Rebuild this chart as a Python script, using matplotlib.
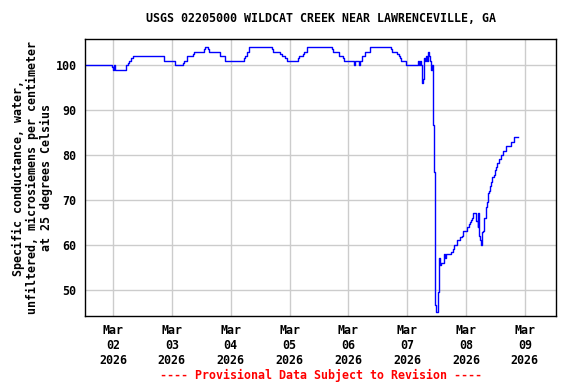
import matplotlib
matplotlib.use("Agg")
import matplotlib.pyplot as plt
import pandas as pd

# hours after 2026-03-02 00:00 where the reported value changes
hours = [-11.4, -0.4, 0.0, 0.4, 1.0, 5.1, 5.5, 6.1, 6.7, 7.3, 8.0, 20.9, 25.4, 28.7, 29.1,
         30.2, 32.8, 33.2, 37.2, 37.6, 38.8, 39.2, 43.6, 45.8, 53.4, 54.0, 54.7, 55.6,
         65.0, 65.4, 68.2, 68.8, 70.3, 70.9, 75.6, 76.0, 77.4, 77.9, 79.0, 89.2, 89.9,
         92.2, 93.9, 94.3, 98.3, 98.6, 100.5, 100.8, 101.7, 102.7, 105.0, 113.5, 113.9,
         116.0, 116.5, 117.2, 117.6, 119.6, 124.4, 124.8, 125.2, 125.6, 126.0, 126.4,
         126.9, 127.3, 127.7, 128.1, 128.5, 128.9, 129.3, 129.7, 130.1, 130.5, 130.7,
         131.1, 131.5, 131.8, 132.5, 132.9, 133.3, 133.7, 135.0, 135.4, 135.8, 138.0,
         138.6, 139.2, 140.4, 141.7, 142.2, 142.9, 144.3, 145.1, 145.6, 146.2, 146.6,
         147.0, 148.2, 148.8, 149.0, 149.2, 149.4, 149.8, 150.1, 150.5, 150.9, 151.5,
         152.0, 152.4, 152.8, 153.2, 153.7, 154.2, 154.7, 155.3, 155.8, 156.2, 156.8,
         157.5, 158.3, 159.2, 160.3, 162.3, 163.7, 165.1]
values = [100, 99.5, 99, 100, 99, 99.5, 100, 100.5, 101, 101.5, 102, 101, 100, 100.5, 101,
          102, 102.5, 103, 103.5, 104, 103.5, 103, 102, 101, 101.5, 102, 103, 104,
          103.5, 103, 102.5, 102, 101.5, 101, 101.5, 102, 102.5, 103, 104, 103.5, 103,
          102, 101.5, 101, 100, 101, 100, 101, 102, 103, 104, 103.5, 103,
          102.5, 102, 101.5, 101, 100, 101, 100, 101, 100, 96, 97,
          101.5, 101, 102, 101, 103, 102, 101, 99, 100, 98.5, 86.7,
          76.3, 46.7, 45, 49.6, 57, 55.5, 56, 58, 57, 58, 58.5,
          59, 60, 61, 61.7, 62, 63, 64, 64.6, 65, 65.5, 66,
          67, 65.4, 64, 67, 63.6, 62, 61, 60, 62.8, 63, 65.9,
          68.5, 69.6, 71.5, 72.1, 73, 74.1, 75.1, 75.6, 76.6, 77.4, 78.2,
          79.1, 80, 81, 82, 82.8, 84, 84]

y_ticks = [50, 60, 70, 80, 90, 100]
x_tick_days = ["2026-03-02", "2026-03-03", "2026-03-04", "2026-03-05",
               "2026-03-06", "2026-03-07", "2026-03-08", "2026-03-09"]

base = pd.Timestamp("2026-03-02 00:00")
times = base + pd.to_timedelta(hours, unit="h")

plt.rcParams['font.family'] = ['DejaVu Sans Mono']
fig = plt.figure(figsize=(5.76, 3.84), dpi=100)
ax = fig.add_axes([85/576, 1-316/384, (556-85)/576, (316-39)/384])

ax.plot(times, values, drawstyle='steps-post', color='#0000ff', lw=1.0)

ax.set_xlim(base + pd.Timedelta(hours=-11.42), base + pd.Timedelta(hours=180.7))
ax.set_ylim(44.2, 105.8)
ax.set_yticks(y_ticks)
ticks = pd.to_datetime(x_tick_days)
ax.set_xticks(ticks)
ax.set_xticklabels([t.strftime("%b\n%d\n%Y") for t in ticks], fontsize=8.4,
                   fontweight='bold', linespacing=1.2)
ax.tick_params(axis='y', labelsize=8.4, length=0, pad=6)
ax.tick_params(axis='x', length=0, pad=6)
for lbl in ax.get_yticklabels():
    lbl.set_fontweight('bold')
ax.grid(True, color='#cccccc', lw=1)
ax.set_axisbelow(True)
for s in ax.spines.values():
    s.set_linewidth(1.0)

ax.set_ylabel("Specific conductance, water,\nunfiltered, microsiemens per centimeter\nat 25 degrees Celsius",
              fontsize=8.4, fontweight='bold', linespacing=1.1, labelpad=2)
fig.text(320.5/576, 1-19/384, "USGS 02205000 WILDCAT CREEK NEAR LAWRENCEVILLE, GA",
         ha='center', va='center', fontsize=8.4, fontweight='bold')
fig.text(320.5/576, 1-375/384, "---- Provisional Data Subject to Revision ----",
         ha='center', va='center', fontsize=8.4, fontweight='bold', color='red')

fig.savefig("out.png", dpi=100)
